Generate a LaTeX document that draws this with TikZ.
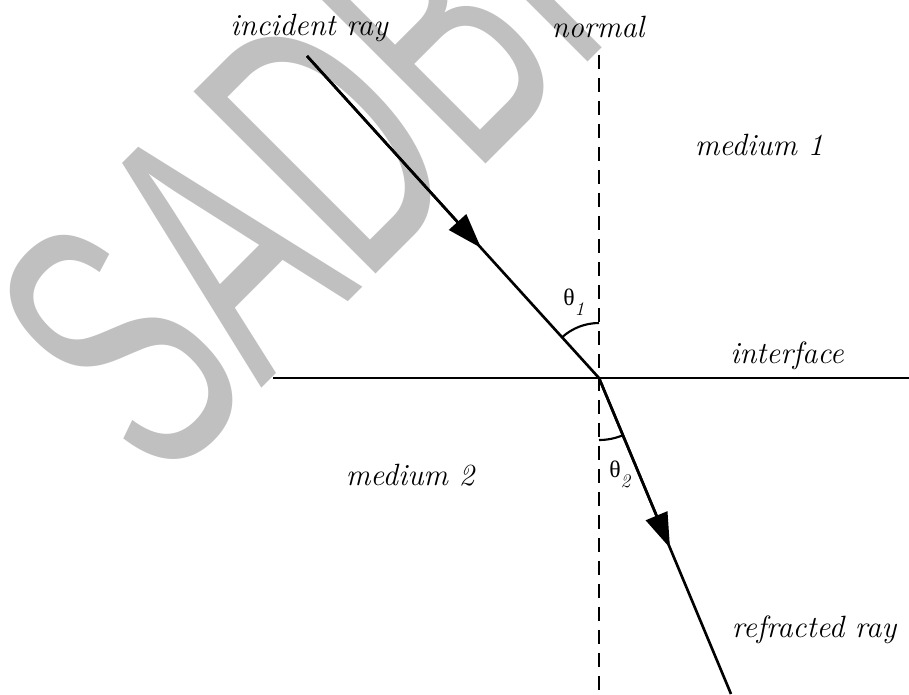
\documentclass[tikz,border=0pt]{standalone}
\usepackage{fontspec}
\usepackage{xcolor}
\usepackage{tikz}
\usetikzlibrary{arrows.meta,calc,positioning}
\newfontfamily\wmfont{Liberation Sans}
\newfontfamily\grkfont{Liberation Serif}
\definecolor{wmgray}{RGB}{192,192,192}
\newcommand{\angsub}[1]{\raisebox{-0.2cm}{\normalfont\itshape\fontsize{11}{13}\selectfont #1}}

\tikzset{
  lbl/.style={font=\fontsize{17.5}{21}\selectfont\itshape, inner sep=0pt, anchor=base},
  anglbl/.style={font=\grkfont\fontsize{13.5}{16}\selectfont, inner sep=0pt, anchor=base west},
  ray/.style={line width=1.5pt},
  tip/.style={-{Triangle[length=0.7cm,width=0.46cm]}},
  nrmline/.style={line width=0.9pt, dash pattern=on 0.28cm off 0.18cm},
  angmark/.style={line width=1.2pt}
}

\begin{document}
\begin{tikzpicture}[x=0.02cm, y=-0.02cm]
\useasboundingbox (0,0) rectangle (909,694);
\clip (0,0) rectangle (909,694);

% watermark
\node[text=wmgray, font=\wmfont\fontsize{213}{213}\selectfont, inner sep=0pt,
      rotate=45, anchor=base west] (wmark) at (160,490) {\scalebox{0.576}[1]{SADBH}};

% points
\coordinate (src) at (307,56);
\coordinate (hit) at (599,378);
\coordinate (dst) at (731,694);
\coordinate (ntop) at (599,55);
\coordinate (nbot) at (599,694);
\coordinate (ileft) at (273,378);
\coordinate (iright) at (909,378);

% normal and interface
\draw[nrmline] (ntop) -- (nbot);
\draw[line width=1.1pt] (ileft) -- (iright);

% rays
\draw[ray] (src) -- (hit) -- (dst);
\draw[ray, tip] (src) -- ($(src)!0.596!(hit)$);
\draw[ray, tip] (hit) -- ($(hit)!0.538!(dst)$);

% angles
\draw[angmark] (hit) ++(270:55) arc (270:228:55);
\draw[angmark] (hit) ++(90:62) arc (90:67.3:62);
\node[anglbl] (th1) at (563,305) {θ\angsub{1}};
\node[anglbl] (th2) at (609,477) {θ\angsub{2}};

% labels
\node[lbl] (inc) at (309,35) {incident ray};
\node[lbl] (nrm) at (598,37) {normal};
\node[lbl] (med1) at (759,155) {medium 1};
\node[lbl] (ifc) at (787,363) {interface};
\node[lbl] (med2) at (410,485) {medium 2};
\node[lbl] (refr) at (814,637) {refracted ray};

\end{tikzpicture}
\end{document}
